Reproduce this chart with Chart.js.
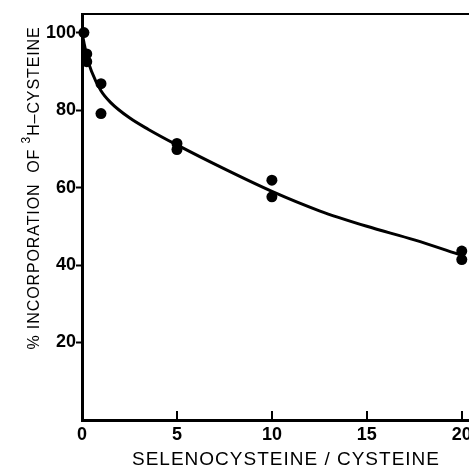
<!DOCTYPE html>
<html>
<head>
<meta charset="utf-8">
<script src="https://cdn.jsdelivr.net/npm/chart.js@4"></script>
<style>
  html, body { margin: 0; padding: 0; background: #fff; }
  canvas { display: block; }
</style>
</head>
<body>
<canvas id="chart" width="469" height="475"></canvas>
<script>
// measured points (selenocysteine / cysteine ratio vs % incorporation)
const pointX = [0.1, 0.25, 0.25, 1, 1, 5, 5, 10, 10, 20, 20];
const pointY = [100, 94.5, 92.5, 86.8, 79.1, 71.4, 69.8, 61.9, 57.6, 43.6, 41.4];

// fitted curve
const curveX = [0, 0.1, 0.25, 0.5, 1, 1.5, 2.5, 3.5, 5, 7.5, 10, 12.5, 15, 17.5, 20];
const curveY = [100, 97.5, 94, 90, 85, 82, 78, 75, 71, 64.8, 59, 54, 50, 46.5, 42.5];

const xTicks = [0, 5, 10, 15, 20];
const yTicks = [20, 40, 60, 80, 100];

const X_MAX = 20.38;
const Y_MAX = 104.8;

const tickFont = {
  family: "'Liberation Sans', Arial, sans-serif",
  size: 18,
  weight: "bold",
};

// titles + inward x tick marks
const decorations = {
  id: "decorations",
  afterDraw(chart) {
    const ctx = chart.ctx;
    const x = chart.scales.x;
    const area = chart.chartArea;

    ctx.save();
    ctx.strokeStyle = "#000";
    ctx.lineWidth = 2;
    xTicks.slice(1).forEach((v) => {
      const px = Math.round(x.getPixelForValue(v));
      ctx.beginPath();
      ctx.moveTo(px, area.bottom);
      ctx.lineTo(px, area.bottom - 9);
      ctx.stroke();
    });

    // x title
    ctx.fillStyle = "#000";
    ctx.font = "19px 'Liberation Sans', Arial, sans-serif";
    ctx.letterSpacing = "1px";
    ctx.textAlign = "center";
    ctx.textBaseline = "alphabetic";
    ctx.fillText("SELENOCYSTEINE / CYSTEINE", 286, 465);

    // y title, rotated, with superscript 3
    const big = "16px 'Liberation Sans', Arial, sans-serif";
    const small = "12px 'Liberation Sans', Arial, sans-serif";
    const partA = "% INCORPORATION  OF ";
    const partB = "3";
    const partC = "H\u2013CYSTEINE";
    ctx.letterSpacing = "0.9px";
    ctx.font = big;
    const wA = ctx.measureText(partA).width;
    const wC = ctx.measureText(partC).width;
    ctx.font = small;
    const wB = ctx.measureText(partB).width;
    const total = wA + wB + wC;

    ctx.translate(39, 188);
    ctx.rotate(-Math.PI / 2);
    ctx.textAlign = "left";
    let cx = -total / 2;
    ctx.font = big;
    ctx.fillText(partA, cx, 0);
    cx += wA;
    ctx.font = small;
    ctx.fillText(partB, cx, -9);
    cx += wB;
    ctx.font = big;
    ctx.fillText(partC, cx, 0);
    ctx.restore();
  },
};

const points = pointX.map((v, i) => ({ x: v, y: pointY[i] }));
const curve = curveX.map((v, i) => ({ x: v, y: curveY[i] }));

new Chart(document.getElementById("chart"), {
  type: "scatter",
  data: {
    datasets: [
      {
        label: "fit",
        data: curve,
        showLine: true,
        borderColor: "#000",
        borderWidth: 3,
        pointRadius: 0,
        cubicInterpolationMode: "monotone",
        clip: false,
      },
      {
        label: "data",
        data: points,
        backgroundColor: "#000",
        borderColor: "#000",
        pointRadius: 5.5,
        borderWidth: 0,
        clip: false,
      },
    ],
  },
  options: {
    responsive: false,
    animation: false,
    layout: {
      autoPadding: false,
      padding: { top: 14, left: 0, right: 0, bottom: 0 },
    },
    plugins: {
      legend: { display: false },
      tooltip: { enabled: false },
    },
    scales: {
      x: {
        type: "linear",
        position: "bottom",
        min: 0,
        max: X_MAX,
        afterBuildTicks: (s) => {
          s.ticks = xTicks.map((v) => ({ value: v }));
        },
        afterFit: (s) => {
          s.height = 55;
          s.paddingLeft = 0;
          s.paddingRight = 0;
        },
        grid: { display: false, drawTicks: false },
        border: { display: true, color: "#000", width: 3 },
        ticks: {
          color: "#000",
          font: tickFont,
          padding: 4,
          maxRotation: 0,
          autoSkip: false,
        },
      },
      x2: {
        type: "linear",
        position: "top",
        min: 0,
        max: X_MAX,
        afterFit: (s) => {
          s.height = 0;
          s.paddingLeft = 0;
          s.paddingRight = 0;
        },
        grid: { display: false, drawTicks: false },
        border: { display: true, color: "#000", width: 2 },
        ticks: { display: false },
      },
      y: {
        type: "linear",
        position: "left",
        min: 0,
        max: Y_MAX,
        afterBuildTicks: (s) => {
          s.ticks = yTicks.map((v) => ({ value: v }));
        },
        afterFit: (s) => {
          s.width = 82;
          s.paddingTop = 0;
          s.paddingBottom = 0;
        },
        grid: {
          display: true,
          drawOnChartArea: false,
          drawTicks: true,
          tickLength: 6,
          tickWidth: 2,
          tickColor: "#000",
        },
        border: { display: true, color: "#000", width: 3 },
        ticks: {
          color: "#000",
          font: tickFont,
          padding: 0,
          autoSkip: false,
        },
      },
    },
  },
  plugins: [decorations],
});
</script>
</body>
</html>
